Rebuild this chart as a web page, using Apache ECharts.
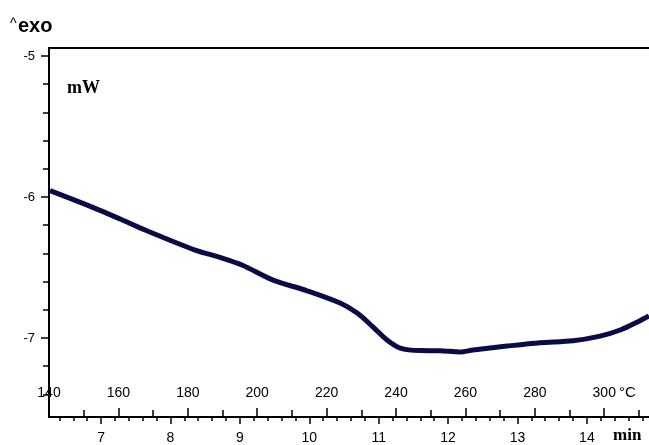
<!DOCTYPE html>
<html>
<head>
<meta charset="utf-8">
<script src="https://cdn.jsdelivr.net/npm/echarts@6/dist/echarts.min.js"></script>
<style>
html,body{margin:0;padding:0;background:#fff;}
#chart{width:649px;height:445px;}
</style>
</head>
<body>
<div id="chart"></div>
<script>
// Temperature (°C) of each sampled point of the DSC curve
var temperatures = [140.3, 153.3, 160.5, 167.7, 182.1, 189.3, 195.6, 204.6, 214.4, 223.9, 228.8, 233.4, 237.4, 241.2, 246.9, 252.7, 258.4, 262.2, 272.0, 281.5, 291.0, 298.8, 304.6, 310.3, 312.9];
// Heat flow (mW)
var heatFlow = [-5.955, -6.080, -6.156, -6.234, -6.376, -6.428, -6.482, -6.589, -6.665, -6.752, -6.823, -6.922, -7.014, -7.071, -7.089, -7.090, -7.099, -7.085, -7.057, -7.033, -7.019, -6.986, -6.943, -6.877, -6.844];

var tempMajorTicks = [140, 160, 180, 200, 220, 240, 260, 280, 300];
var tempMinorTicks = [150, 170, 190, 210, 230, 250, 270, 290, 310];
var timeMajorTicks = [7, 8, 9, 10, 11, 12, 13, 14];
var timeMinorTicks = [6.4, 6.6, 6.8, 7.2, 7.4, 7.6, 7.8, 8.2, 8.4, 8.6, 8.8, 9.2, 9.4, 9.6, 9.8, 10.2, 10.4, 10.6, 10.8, 11.2, 11.4, 11.6, 11.8, 12.2, 12.4, 12.6, 12.8, 13.2, 13.4, 13.6, 13.8, 14.2, 14.4, 14.6, 14.8];
var yMajorTicks = [-7, -6, -5];
var yMinorTicks = [-7.4, -7.2, -6.8, -6.6, -6.4, -6.2, -5.8, -5.6, -5.4, -5.2];

var T_MIN = 140, T_MAX = 312.9;
// heating rate 20 °C/min, T = 15 + 20 t
var tOf = function (T) { return (T - 15) / 20; };
var Y_MIN = -7.56, Y_MAX = -4.943;

var data = temperatures.map(function (t, i) { return [t, heatFlow[i]]; });

var black = '#000';
var font = 'Liberation Sans, Arial, sans-serif';
var serif = 'Liberation Serif, Times New Roman, serif';

var chart = echarts.init(document.getElementById('chart'), null, {renderer: 'canvas'});
chart.setOption({
  animation: false,
  backgroundColor: '#fff',
  grid: {left: 49, right: 0, top: 48, bottom: 28, containLabel: false},
  xAxis: [
    { // temperature, major
      type: 'value', min: T_MIN, max: T_MAX, position: 'bottom',
      axisLine: {show: true, onZero: false, lineStyle: {color: black, width: 2}},
      axisTick: {show: true, inside: true, length: 9, customValues: tempMajorTicks, lineStyle: {color: black, width: 1.5}},
      axisLabel: {show: true, inside: true, margin: 17, customValues: tempMajorTicks, color: black, fontFamily: font, fontSize: 14,
        showMinLabel: true, showMaxLabel: true},
      splitLine: {show: false}
    },
    { // temperature, minor
      type: 'value', min: T_MIN, max: T_MAX, position: 'bottom',
      axisLine: {show: false, onZero: false},
      axisTick: {show: true, inside: true, length: 7, customValues: tempMinorTicks, lineStyle: {color: black, width: 1.5}},
      axisLabel: {show: false},
      splitLine: {show: false}
    },
    { // time, major
      type: 'value', min: tOf(T_MIN), max: tOf(T_MAX), position: 'bottom',
      axisLine: {show: false, onZero: false},
      axisTick: {show: true, inside: false, length: 7, customValues: timeMajorTicks, lineStyle: {color: black, width: 1.5}},
      axisLabel: {show: true, margin: 14, customValues: timeMajorTicks, color: black, fontFamily: font, fontSize: 14},
      splitLine: {show: false}
    },
    { // time, minor
      type: 'value', min: tOf(T_MIN), max: tOf(T_MAX), position: 'bottom',
      axisLine: {show: false, onZero: false},
      axisTick: {show: true, inside: false, length: 4, customValues: timeMinorTicks, lineStyle: {color: black, width: 1.5}},
      axisLabel: {show: false},
      splitLine: {show: false}
    },
    { // top frame
      type: 'value', min: T_MIN, max: T_MAX, position: 'top',
      axisLine: {show: true, onZero: false, lineStyle: {color: black, width: 2}},
      axisTick: {show: false}, axisLabel: {show: false}, splitLine: {show: false}
    }
  ],
  yAxis: [
    {
      type: 'value', min: Y_MIN, max: Y_MAX, position: 'left',
      axisLine: {show: true, onZero: false, lineStyle: {color: black, width: 2}},
      axisTick: {show: true, inside: false, length: 8, customValues: yMajorTicks, lineStyle: {color: black, width: 1.5}},
      axisLabel: {show: true, margin: 14, customValues: yMajorTicks, color: black, fontFamily: font, fontSize: 13},
      splitLine: {show: false}
    },
    {
      type: 'value', min: Y_MIN, max: Y_MAX, position: 'left',
      axisLine: {show: false, onZero: false},
      axisTick: {show: true, inside: false, length: 6, customValues: yMinorTicks, lineStyle: {color: black, width: 1.5}},
      axisLabel: {show: false},
      splitLine: {show: false}
    }
  ],
  series: [{
    type: 'line', xAxisIndex: 0, yAxisIndex: 0,
    data: data, smooth: 0.3, showSymbol: false,
    lineStyle: {color: '#0a0a46', width: 5},
    clip: true
  }],
  graphic: [
    {type: 'text', left: 10, top: 17, style: {text: '^', fill: black, font: '14px ' + font}},
    {type: 'text', left: 18, top: 16, style: {text: 'exo', fill: black, font: 'bold 20px ' + font}},
    {type: 'text', left: 67, top: 79, style: {text: 'mW', fill: black, font: 'bold 18px ' + serif}},
    {type: 'text', left: 613, top: 427, style: {text: 'min', fill: black, font: 'bold 17px ' + serif}},
    {type: 'text', left: 619, top: 385, style: {text: '°C', fill: black, font: '15px ' + font}}
  ]
});
</script>
</body>
</html>
